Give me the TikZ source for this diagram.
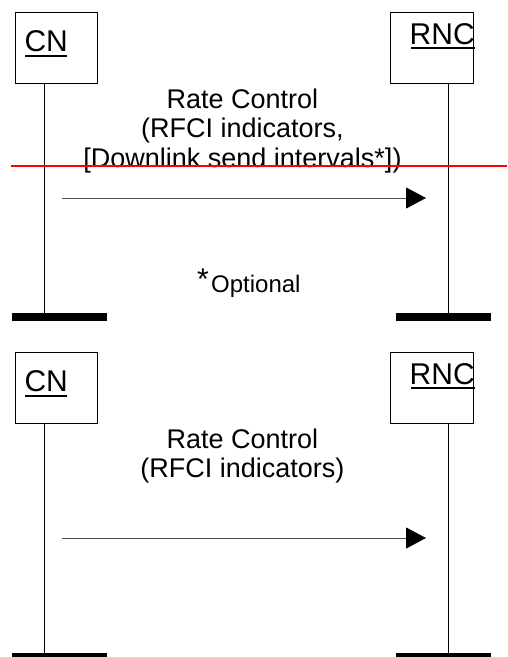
\documentclass[tikz,border=0pt]{standalone}
\usepackage{fontspec}
\setmainfont{Liberation Sans}
\usetikzlibrary{arrows.meta}
\definecolor{strikered}{RGB}{255,0,0}
\newcommand{\szEnt}{\fontsize{30}{30}\selectfont}
\newcommand{\szMsg}{\fontsize{27}{27}\selectfont}
\newcommand{\szNote}{\fontsize{24}{24}\selectfont}
\newcommand{\szStar}{\fontsize{30}{30}\selectfont}
\begin{document}
\begin{tikzpicture}[x=1pt,y=-1pt,
  entbox/.style={draw=black,line width=1pt,inner sep=0pt,outer sep=0pt},
  entlbl/.style={inner sep=0pt,outer sep=0pt,anchor=base west,font=\szEnt},
  ulline/.style={line width=2.3pt},
  msglbl/.style={inner sep=0pt,outer sep=0pt,anchor=base,font=\szMsg},
  lifeline/.style={line width=1pt,black},
  endbar/.style={fill=black,draw=none,inner sep=0pt,outer sep=0pt,minimum width=95pt,minimum height=8pt},
  msg/.style={line width=1pt,black!70,-{Triangle[length=20pt,width=21pt,fill=black,color=black]}},
]
\clip (0,0) rectangle (507,657);
\fill[white] (0,0) rectangle (507,657);

% ---------------- upper chart ----------------
\node[entbox,minimum width=81.5pt,minimum height=71pt] (cnboxA) at (56.25,47.5) {};
\node[entbox,minimum width=83pt,minimum height=71pt] (rncboxA) at (431.5,47.5) {};
\node[entlbl] (cnA) at (24.5,51.7) {CN};
\draw[ulline] (cnA.base west) ++(0.5,4.5) -- ++(42,0);
\node[entlbl] (rncA) at (409.7,44) {RNC};
\draw[ulline] (rncA.base west) ++(1.3,4.3) -- ++(63.5,0);

\node[endbar] (cnbarA) at (59.5,317) {};
\node[endbar] (rncbarA) at (443.5,317) {};
\coordinate (cnlA) at (44.5,313);
\coordinate (rnclA) at (448,313);
\draw[lifeline] (cnlA |- cnboxA.south) -- (cnlA);
\draw[lifeline] (rnclA |- rncboxA.south) -- (rnclA);

\node[msglbl] (t1A) at (242.5,108.3) {Rate Control};
\node[msglbl] (t2A) at (242.5,137.8) {(RFCI indicators,};
\node[msglbl] (t3A) at (242.5,167.3) {[Downlink send intervals*])};

\coordinate (redL) at (11,165.7);
\coordinate (redR) at (507,165.7);
\draw[draw=strikered,line width=1.6pt] (redL) -- (redR);

\coordinate (asA) at (62,198);
\coordinate (aeA) at (426,198);
\draw[msg] (asA) -- (aeA);

\node[inner sep=0pt,outer sep=0pt,anchor=base west,font=\szNote] (optA) at (197,292.5)
  {\raisebox{3pt}{\szStar *}\hspace{2.5pt}Optional};

% ---------------- lower chart ----------------
\node[entbox,minimum width=81.5pt,minimum height=71pt] (cnboxB) at (56.25,387.5) {};
\node[entbox,minimum width=83pt,minimum height=71pt] (rncboxB) at (431.5,387.5) {};
\node[entlbl] (cnB) at (24.5,391.7) {CN};
\draw[ulline] (cnB.base west) ++(0.5,4.5) -- ++(42,0);
\node[entlbl] (rncB) at (409.7,384) {RNC};
\draw[ulline] (rncB.base west) ++(1.3,4.3) -- ++(63.5,0);

\node[endbar] (cnbarB) at (59.5,657) {};
\node[endbar] (rncbarB) at (443.5,657) {};
\coordinate (cnlB) at (44.5,653);
\coordinate (rnclB) at (448,653);
\draw[lifeline] (cnlB |- cnboxB.south) -- (cnlB);
\draw[lifeline] (rnclB |- rncboxB.south) -- (rnclB);

\node[msglbl] (t1B) at (242.5,448.3) {Rate Control};
\node[msglbl] (t2B) at (242.5,477.8) {(RFCI indicators)};

\coordinate (asB) at (62,538);
\coordinate (aeB) at (426,538);
\draw[msg] (asB) -- (aeB);
\end{tikzpicture}
\end{document}
